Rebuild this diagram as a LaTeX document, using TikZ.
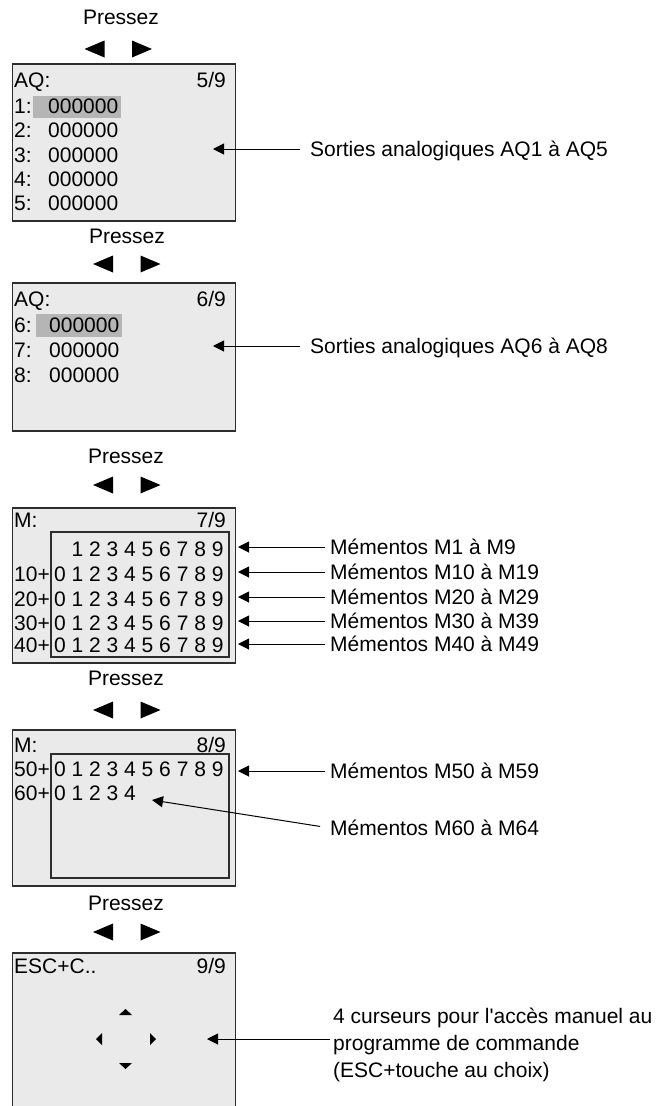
\documentclass[tikz,border=0pt]{standalone}
\usepackage{fontspec}
\setmainfont{Liberation Sans}
\usetikzlibrary{arrows.meta}
\definecolor{LcdGray}{RGB}{234,234,234}
\definecolor{CursorGray}{RGB}{181,181,181}
\definecolor{FrameGray}{RGB}{45,45,45}
\newcommand{\lcdfont}{\fontsize{21}{27}\selectfont}

\begin{document}
\begin{tikzpicture}[x=1pt, y=-1pt, font=\lcdfont,
    screen/.style={draw=FrameGray, fill=LcdGray, line width=1.3pt},
    memgrid/.style={draw=FrameGray, line width=1.1pt},
    txt/.style={anchor=base west, inner sep=0pt},
    pg/.style={anchor=base east, inner sep=0pt},
    note/.style={anchor=west, inner sep=0pt, text height=15pt, text depth=0pt},
    pointer/.style={-{Triangle[length=11pt,width=11pt]}, line width=1pt, shorten <=#1},
    pointer/.default=5pt]
  \useasboundingbox (0,0) rectangle (667,1106);

  % Pressez with the two keys above each screen
  \foreach \n/\x/\yb/\ya/\dl in {1/121/24/49/94.5, 2/127/243/264/103,
      3/126/463/485/103, 4/126/685/710/103, 5/126/910/932/103} {
    \node[anchor=base, inner sep=0pt] (press\n) at (\x,\yb) {Pressez};
    \fill (\dl+10,\ya-8.5) -- (\dl+10,\ya+8.5) -- (\dl-10,\ya) -- cycle;
    \fill (\dl+37.5,\ya-8.5) -- (\dl+37.5,\ya+8.5) -- (\dl+57.5,\ya) -- cycle;
  }

  % screen 5/9
  \draw[screen] (12.5,64) rectangle (235.5,221);
  \fill[CursorGray] (33,96) rectangle (121,118);
  \node[txt] (aqA) at (14,87) {AQ:};
  \node[pg] (pgA) at (226,87) {5/9};
  \foreach \i/\y in {1/113,2/137.5,3/162,4/186,5/210.5} {
    \node[txt] (ka\i) at (14,\y) {\i:};
    \node[txt] (va\i) at (48,\y) {000000};
  }
  \coordinate (tA) at (213,149);
  \node[note] (lA) at (310,149) {Sorties analogiques AQ1 à AQ5};
  \draw[pointer=10pt] (lA.west) -- (tA);

  % screen 6/9
  \draw[screen] (12.5,283) rectangle (235.5,431);
  \fill[CursorGray] (36,314) rectangle (122,337);
  \node[txt] (aqB) at (14,306) {AQ:};
  \node[pg] (pgB) at (226,306) {6/9};
  \foreach \i/\y in {6/332,7/357,8/382} {
    \node[txt] (kb\i) at (14,\y) {\i:};
    \node[txt] (vb\i) at (49,\y) {000000};
  }
  \coordinate (tB) at (213,346);
  \node[note] (lB) at (310,346) {Sorties analogiques AQ6 à AQ8};
  \draw[pointer=10pt] (lB.west) -- (tB);

  % screen 7/9
  \draw[screen] (12.5,508) rectangle (235.5,663);
  \draw[memgrid] (51,532) rectangle (229,657);
  \node[txt] (mC) at (14,527) {M:};
  \node[pg] (pgC) at (226,527) {7/9};
  \node[txt] (rC0) at (71.5,556) {1 2 3 4 5 6 7 8 9};
  \foreach \i/\y in {1/581,2/606,3/630,4/652} {
    \node[txt] (kc\i) at (14,\y) {\i0+};
    \node[txt] (rc\i) at (54,\y) {0 1 2 3 4 5 6 7 8 9};
  }
  \foreach \a/\b/\y in {1/9/547, 10/19/572, 20/29/597, 30/39/621, 40/49/644} {
    \coordinate (tc\a) at (238,\y);
    \node[note] (lc\a) at (330,\y) {Mémentos M\a{} à M\b};
    \draw[pointer] (lc\a.west) -- (tc\a);
  }

  % screen 8/9
  \draw[screen] (12.5,730) rectangle (235.5,886);
  \draw[memgrid] (51,754) rectangle (229,878);
  \node[txt] (mD) at (14,752) {M:};
  \node[pg] (pgD) at (226,752) {8/9};
  \node[txt] (kd5) at (14,776) {50+};
  \node[txt] (rd5) at (54,776) {0 1 2 3 4 5 6 7 8 9};
  \node[txt] (kd6) at (14,800) {60+};
  \node[txt] (rd6) at (54,800) {0 1 2 3 4};
  \coordinate (td50) at (238,771);
  \node[note] (ld50) at (330,771) {Mémentos M50 à M59};
  \draw[pointer] (ld50.west) -- (td50);
  \coordinate (td60) at (152,800);
  \node[note] (ld60) at (330,828) {Mémentos M60 à M64};
  \draw[pointer=10pt] (ld60.west) -- (td60);

  % screen 9/9
  \draw[screen] (12.5,953) rectangle (235.5,1112);
  \node[txt] (escE) at (14,973) {ESC+C..};
  \node[pg] (pgE) at (226,973) {9/9};
  \fill (119,1015) -- (132,1015) -- (125.5,1009) -- cycle;
  \fill (119,1063) -- (132,1063) -- (125.5,1069) -- cycle;
  \fill (102,1033) -- (102,1045) -- (96,1039) -- cycle;
  \fill (150,1033) -- (150,1045) -- (156,1039) -- cycle;
  \coordinate (tE) at (207,1039);
  \node[anchor=base west, inner sep=0pt, align=left] (lE) at (333,1077)
    {4 curseurs pour l\textquotesingle accès manuel au\\programme de commande\\(ESC+touche au choix)};
  \draw[pointer=3pt] (lE.west |- tE) -- (tE);
\end{tikzpicture}
\end{document}
